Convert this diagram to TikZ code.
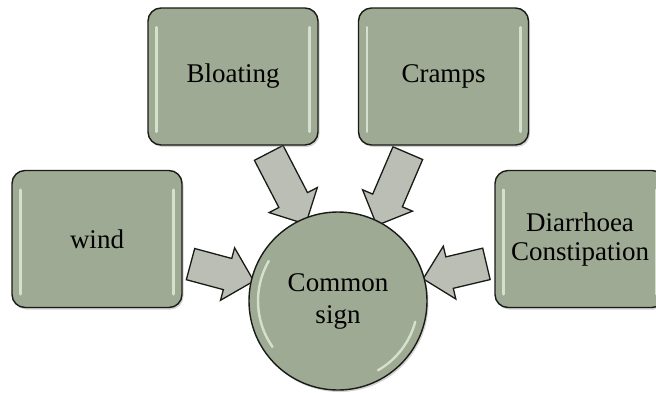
\documentclass[tikz,border=0pt]{standalone}
\usepackage{fontspec}
\setmainfont{Liberation Serif}
\usetikzlibrary{shapes.arrows,shadows,calc,backgrounds}
\definecolor{boxfill}{RGB}{158,170,147}
\definecolor{arrowfill}{RGB}{186,190,181}
\definecolor{edgecol}{RGB}{25,28,22}
\definecolor{hilite}{RGB}{226,234,214}
\tikzset{
  box/.style={draw=edgecol, line width=1.4pt, fill=boxfill, rounded corners=13pt,
    minimum width=170pt, minimum height=137pt, inner sep=0pt, align=center,
    font=\fontsize{27}{29}\selectfont,
    drop shadow={shadow xshift=1.5pt, shadow yshift=-2pt, opacity=0.35}},
  hub/.style={draw=edgecol, line width=1.4pt, fill=boxfill, circle, minimum size=178pt,
    inner sep=0pt, align=center, font=\fontsize{27}{32}\selectfont,
    drop shadow={shadow xshift=1.5pt, shadow yshift=-2pt, opacity=0.35}},
  blockarrow/.style={draw=edgecol, line width=1.3pt, fill=arrowfill, single arrow,
    inner xsep=0pt, inner ysep=15.5pt, single arrow head extend=11pt,
    single arrow tip angle=90, line join=miter},
  shine/.style={draw=hilite, line width=2.6pt, line cap=round, opacity=0.85},
}
\begin{document}
\begin{tikzpicture}[x=1pt,y=-1pt]
\useasboundingbox (0,0) rectangle (656,392);
\begin{scope}
\clip (0,0) rectangle (656,392);
\node[box] (bloat) at (233,76.5) {Bloating};
\node[box] (cramps) at (443.5,76.5) {Cramps};
\node[box] (wind) at (97,239) {wind};
\node[box] (diar) at (580,239) {Diarrhoea\\Constipation};
\node[hub] (cs) at (338,301) {Common\\sign};

% glossy highlight bars
\foreach \n in {bloat,cramps,wind,diar}{
  \draw[shine] ($(\n.north west)+(9pt,-20pt)$) -- ($(\n.south west)+(9pt,14pt)$);
  \draw[shine] ($(\n.north east)+(-9pt,-20pt)$) -- ($(\n.south east)+(-9pt,14pt)$);
}
\draw[shine, line width=2.4pt] ($(cs.center)+(150:80pt)$) arc[start angle=150, end angle=215, radius=80pt];
\draw[shine, line width=2.4pt] ($(cs.center)+(-15:80pt)$) arc[start angle=-15, end angle=-60, radius=80pt];

% arrow end points
\coordinate (b1) at ([xshift=32pt]bloat.south);
\coordinate (b2) at ($(cs.center)+(-36pt,84pt)$);
\coordinate (c1) at ([xshift=-32.5pt]cramps.south);
\coordinate (c2) at ($(cs.center)+(42pt,83pt)$);
\coordinate (w1) at ([yshift=-23pt]wind.east);
\coordinate (w2) at ($(cs.center)+(-92pt,22pt)$);
\coordinate (d1) at ([yshift=-23pt]diar.west);
\coordinate (d2) at ($(cs.center)+(93pt,24pt)$);

\begin{scope}[on background layer]
\foreach \s/\e in {b1/b2,c1/c2,w1/w2,d1/d2}{
  \path let \p1=($(\e)-(\s)$), \n1={atan2(\y1,\x1)}, \n2={veclen(\x1,\y1)} in
    node[blockarrow, minimum height=\n2, rotate=\n1] at ($(\s)!0.5!(\e)$) {};
}
\end{scope}
\end{scope}
\end{tikzpicture}
\end{document}
